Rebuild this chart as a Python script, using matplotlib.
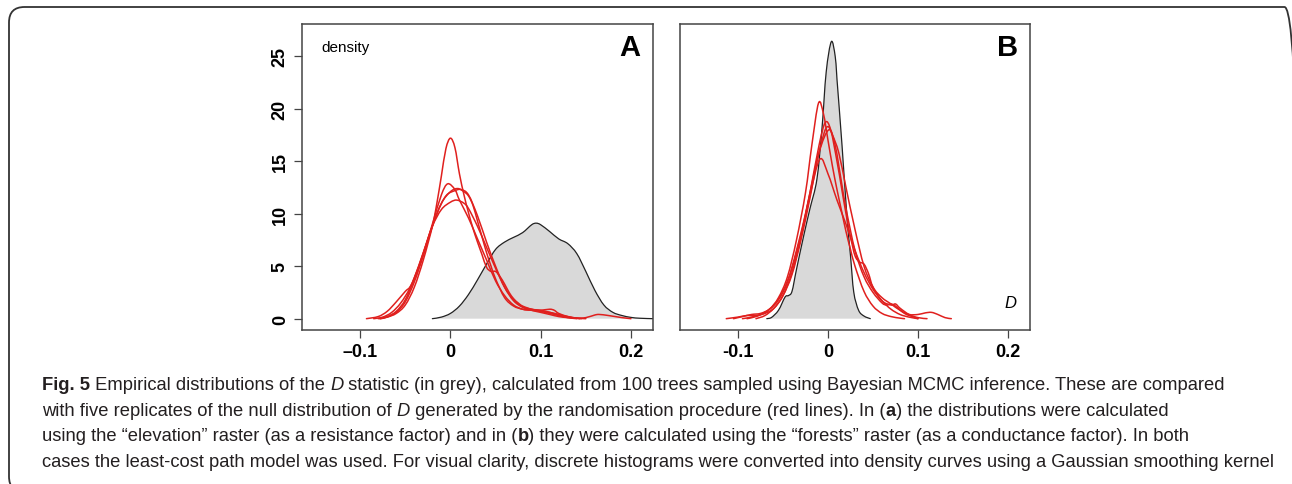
import matplotlib
matplotlib.use("Agg")
import matplotlib.pyplot as plt
import numpy as np
from matplotlib.patches import FancyBboxPatch, PathPatch
from matplotlib.path import Path

# ---------------- data ----------------
# Panel A: grey empirical distribution of D
a_grey_x = [-0.020, -0.010, 0.000, 0.010, 0.020, 0.030, 0.040, 0.050, 0.060, 0.070, 0.080,
            0.090, 0.095, 0.100, 0.110, 0.120, 0.130, 0.140, 0.150, 0.160, 0.170, 0.180,
            0.190, 0.200, 0.210, 0.224]
a_grey_y = [0.0, 0.15, 0.5, 1.2, 2.3, 3.7, 5.2, 6.6, 7.3, 7.75, 8.2,
            8.95, 9.1, 8.95, 8.3, 7.6, 7.15, 6.2, 4.5, 2.7, 1.3, 0.6,
            0.3, 0.12, 0.04, 0.0]

# Panel A: five red null replicates
a_red1_x = [-0.078, -0.07, -0.06, -0.05, -0.04, -0.03, -0.02, -0.015, -0.01, -0.005, 0.0, 0.005,
            0.01, 0.015, 0.02, 0.025, 0.03, 0.035, 0.04, 0.045, 0.05, 0.055, 0.06, 0.065, 0.07,
            0.075, 0.08, 0.09, 0.10, 0.11, 0.12, 0.13, 0.143]
a_red1_y = [0.0, 0.15, 0.5, 1.3, 3.0, 5.6, 8.8, 11.0, 13.6, 16.2, 17.2, 16.3,
            13.8, 11.8, 10.1, 8.6, 7.3, 6.1, 4.9, 4.5, 4.5, 4.0, 3.3, 2.5, 1.9,
            1.5, 1.2, 0.9, 0.8, 0.6, 0.35, 0.15, 0.0]
a_red2_x = [-0.08, -0.07, -0.06, -0.05, -0.04, -0.03, -0.02, -0.01, -0.003, 0.005, 0.01, 0.02,
            0.03, 0.04, 0.05, 0.06, 0.07, 0.08, 0.09, 0.10, 0.11, 0.12, 0.13, 0.14, 0.15]
a_red2_y = [0.0, 0.2, 0.7, 1.8, 3.8, 6.2, 9.0, 11.8, 12.85, 12.3, 11.3, 9.6,
            7.6, 5.6, 3.6, 2.2, 1.3, 0.9, 0.8, 0.7, 0.6, 0.4, 0.2, 0.05, 0.0]
a_red3_x = [-0.078, -0.07, -0.06, -0.05, -0.04, -0.03, -0.02, -0.01, 0.0, 0.008, 0.015, 0.02,
            0.025, 0.03, 0.035, 0.04, 0.045, 0.05, 0.06, 0.07, 0.08, 0.09, 0.10, 0.11, 0.115,
            0.12, 0.13, 0.14, 0.145]
a_red3_y = [0.0, 0.15, 0.6, 1.6, 3.5, 6.0, 8.8, 11.0, 12.1, 12.4, 12.1, 11.7,
            10.8, 9.3, 7.8, 6.3, 5.0, 3.8, 2.0, 1.2, 0.9, 0.8, 0.8, 0.9, 0.8,
            0.5, 0.2, 0.05, 0.0]
a_red4_x = [-0.093, -0.08, -0.07, -0.06, -0.05, -0.045, -0.04, -0.03, -0.02, -0.01, 0.0, 0.007,
            0.015, 0.02, 0.03, 0.04, 0.05, 0.06, 0.07, 0.08, 0.09, 0.10, 0.11, 0.12, 0.13,
            0.14, 0.15, 0.16, 0.165, 0.175, 0.19, 0.20]
a_red4_y = [0.0, 0.2, 0.7, 1.6, 2.6, 3.0, 3.9, 6.3, 8.8, 10.4, 11.1, 11.3,
            11.0, 10.5, 8.8, 6.8, 4.8, 3.0, 1.8, 1.1, 0.8, 0.6, 0.4, 0.2, 0.1,
            0.05, 0.1, 0.35, 0.4, 0.3, 0.1, 0.0]
a_red5_x = [-0.085, -0.075, -0.065, -0.055, -0.045, -0.035, -0.025, -0.015, -0.005, 0.005, 0.012,
            0.02, 0.03, 0.04, 0.05, 0.06, 0.07, 0.08, 0.09, 0.10, 0.11, 0.12, 0.13, 0.14]
a_red5_y = [0.0, 0.15, 0.6, 1.5, 2.9, 5.0, 7.6, 10.0, 11.7, 12.2, 12.3,
            11.8, 9.8, 7.3, 5.0, 3.0, 1.7, 1.1, 0.9, 0.7, 0.5, 0.3, 0.1, 0.0]

# Panel B: grey empirical distribution of D
b_grey_x = [-0.068, -0.063, -0.055, -0.0477, -0.044, -0.040, -0.035, -0.027, -0.020, -0.0123,
            -0.0067, -0.002, 0.0037, 0.008, 0.010, 0.0156, 0.021, 0.025, 0.0286, 0.034, 0.040, 0.047]
b_grey_y = [0.0, 0.1, 0.8, 2.06, 2.2, 2.6, 4.7, 7.9, 10.5, 13.3,
            18.1, 23.5, 26.4, 25.0, 22.8, 16.5, 9.8, 6.0, 2.54, 0.8, 0.25, 0.0]

# Panel B: five red null replicates
b_red1_x = [-0.095, -0.085, -0.075, -0.065, -0.055, -0.045, -0.035, -0.025, -0.018, -0.0105,
            -0.005, 0.0, 0.005, 0.01, 0.015, 0.02, 0.025, 0.03, 0.04, 0.05, 0.06, 0.07, 0.08, 0.085]
b_red1_y = [0.0, 0.15, 0.4, 0.9, 2.0, 4.0, 7.5, 12.0, 16.5, 20.55,
            19.5, 17.0, 14.5, 12.3, 10.3, 8.3, 6.6, 5.0, 2.6, 1.2, 0.5, 0.2, 0.05, 0.0]
b_red2_x = [-0.08, -0.07, -0.06, -0.05, -0.04, -0.03, -0.02, -0.01, -0.003, 0.003, 0.01, 0.015,
            0.02, 0.025, 0.03, 0.035, 0.04, 0.045, 0.05, 0.06, 0.07, 0.075, 0.08, 0.09, 0.10, 0.11]
b_red2_y = [0.0, 0.3, 1.0, 2.2, 4.4, 7.8, 12.0, 16.5, 18.7, 18.0, 15.0, 12.5,
            10.0, 7.8, 6.0, 5.4, 5.2, 4.3, 3.0, 1.7, 1.3, 1.4, 1.0, 0.4, 0.1, 0.0]
b_red3_x = [-0.105, -0.095, -0.085, -0.075, -0.065, -0.055, -0.045, -0.035, -0.025, -0.015,
            -0.005, 0.0, 0.005, 0.012, 0.02, 0.03, 0.04, 0.05, 0.06, 0.07, 0.08, 0.09, 0.10,
            0.108, 0.115, 0.122, 0.13, 0.137]
b_red3_y = [0.0, 0.2, 0.4, 0.5, 0.9, 1.8, 3.5, 6.5, 10.0, 14.0,
            17.5, 18.3, 17.5, 15.8, 12.5, 8.5, 5.0, 3.0, 2.0, 1.4, 0.8, 0.4, 0.4,
            0.55, 0.6, 0.4, 0.1, 0.0]
b_red4_x = [-0.113, -0.10, -0.09, -0.08, -0.07, -0.06, -0.05, -0.04, -0.03, -0.02, -0.01, 0.001,
            0.008, 0.015, 0.02, 0.03, 0.04, 0.05, 0.06, 0.065, 0.07, 0.075, 0.085, 0.095, 0.10]
b_red4_y = [0.0, 0.15, 0.3, 0.3, 0.5, 1.0, 2.2, 4.2, 7.5, 11.5, 15.8, 18.0,
            16.5, 13.0, 10.5, 6.5, 4.0, 2.5, 1.5, 1.3, 1.4, 1.2, 0.5, 0.15, 0.0]
b_red5_x = [-0.09, -0.08, -0.07, -0.06, -0.05, -0.04, -0.03, -0.02, -0.009, 0.0, 0.01, 0.02,
            0.03, 0.04, 0.05, 0.06, 0.07, 0.08, 0.09, 0.10]
b_red5_y = [0.0, 0.2, 0.6, 1.3, 2.6, 4.8, 8.0, 11.8, 15.2, 13.8, 11.3, 9.0,
            6.5, 4.4, 2.8, 1.7, 0.9, 0.4, 0.15, 0.0]

x_ticks = [-0.1, 0.0, 0.1, 0.2]
x_labels_a = ["\u20130.1", "0", "0.1", "0.2"]
x_labels_b = ["-0.1", "0", "0.1", "0.2"]
y_ticks = [0, 5, 10, 15, 20, 25]
y_labels = ["0", "5", "10", "15", "20", "25"]

caption_lines = [
    [("Fig. 5", "bold", "normal"),
     (" Empirical distributions of the ", "normal", "normal"), ("D", "normal", "italic"),
     (" statistic (in grey), calculated from 100 trees sampled using Bayesian MCMC inference. These are compared", "normal", "normal")],
    [("with five replicates of the null distribution of ", "normal", "normal"), ("D", "normal", "italic"),
     (" generated by the randomisation procedure (red lines). In (", "normal", "normal"), ("a", "bold", "normal"),
     (") the distributions were calculated", "normal", "normal")],
    [("using the \u201celevation\u201d raster (as a resistance factor) and in (", "normal", "normal"), ("b", "bold", "normal"),
     (") they were calculated using the \u201cforests\u201d raster (as a conductance factor). In both", "normal", "normal")],
    [("cases the least-cost path model was used. For visual clarity, discrete histograms were converted into density curves using a Gaussian smoothing kernel", "normal", "normal")],
]

# ---------------- figure ----------------
W, H = 1292, 485
fig = plt.figure(figsize=(W / 100, H / 100), dpi=100)
fig.patch.set_facecolor("white")

box = FancyBboxPatch((9 / W, -8 / H), (1300 - 9) / W, (477 + 8) / H,
                     boxstyle="round,pad=0,rounding_size=0.012",
                     transform=fig.transFigure, facecolor="none",
                     edgecolor="#333333", linewidth=1.3, mutation_aspect=W / H)
fig.patches.append(box)

RED = "#e0201e"
TICKFONT = ["Liberation Sans", "DejaVu Sans"]
XLIM = (-0.1644, 0.2244)
YLIM = (-1.08, 28.08)


def smooth_path(xs, ys, close_to_base=False):
    """Smooth curve through the given points (Catmull-Rom as cubic Bezier)."""
    p = np.column_stack([xs, ys]).astype(float)
    n = len(p)
    verts = [tuple(p[0])]
    codes = [Path.MOVETO]
    for i in range(n - 1):
        p0 = p[i - 1] if i > 0 else p[i]
        p1 = p[i]
        p2 = p[i + 1]
        p3 = p[i + 2] if i + 2 < n else p[i + 1]
        c1 = p1 + (p2 - p0) / 6.0
        c2 = p2 - (p3 - p1) / 6.0
        c1[1] = max(c1[1], 0.0)
        c2[1] = max(c2[1], 0.0)
        verts += [tuple(c1), tuple(c2), tuple(p2)]
        codes += [Path.CURVE4] * 3
    if close_to_base:
        verts += [(p[-1][0], 0.0), (p[0][0], 0.0), tuple(p[0])]
        codes += [Path.LINETO, Path.LINETO, Path.CLOSEPOLY]
    return Path(verts, codes)


def draw_curve(ax, xs, ys, color, lw):
    ax.add_patch(PathPatch(smooth_path(xs, ys), facecolor="none", edgecolor=color,
                           linewidth=lw, capstyle="round", joinstyle="round"))


def draw_grey(ax, xs, ys):
    ax.add_patch(PathPatch(smooth_path(xs, ys, close_to_base=True), facecolor="#d9d9d9",
                           edgecolor="none", linewidth=0))
    draw_curve(ax, xs, ys, "#222222", 0.9)


def setup(ax, xlabels, show_y):
    ax.set_xlim(*XLIM)
    ax.set_ylim(*YLIM)
    for s in ax.spines.values():
        s.set_color("#444444")
        s.set_linewidth(1.1)
    ax.set_xticks(x_ticks)
    ax.set_xticklabels(xlabels, fontsize=13, fontweight="bold", family=TICKFONT)
    ax.tick_params(axis="x", direction="out", length=6, width=0.9, color="#444444", pad=3.5)
    if show_y:
        ax.set_yticks(y_ticks)
        ax.set_yticklabels(y_labels, fontsize=13, fontweight="bold", family=TICKFONT,
                           rotation=90, va="center")
        ax.tick_params(axis="y", direction="out", length=6, width=0.9, color="#444444", pad=3.5)
    else:
        ax.set_yticks([])


axA = fig.add_axes([302 / W, (H - 331) / H, 351 / W, 306 / H])
axB = fig.add_axes([680 / W, (H - 331) / H, 350 / W, 306 / H])

draw_grey(axA, a_grey_x, a_grey_y)
for xs, ys in [(a_red1_x, a_red1_y), (a_red2_x, a_red2_y), (a_red3_x, a_red3_y),
               (a_red4_x, a_red4_y), (a_red5_x, a_red5_y)]:
    draw_curve(axA, xs, ys, RED, 1.1)
setup(axA, x_labels_a, True)
axA.text(0.055, 0.925, "density", transform=axA.transAxes, fontsize=11,
         family=TICKFONT, ha="left", va="center")
axA.text(0.965, 0.925, "A", transform=axA.transAxes, fontsize=21, fontweight="bold",
         family=TICKFONT, ha="right", va="center")

draw_grey(axB, b_grey_x, b_grey_y)
for xs, ys in [(b_red1_x, b_red1_y), (b_red2_x, b_red2_y), (b_red3_x, b_red3_y),
               (b_red4_x, b_red4_y), (b_red5_x, b_red5_y)]:
    draw_curve(axB, xs, ys, RED, 1.1)
setup(axB, x_labels_b, False)
axB.text(0.966, 0.925, "B", transform=axB.transAxes, fontsize=21, fontweight="bold",
         family=TICKFONT, ha="right", va="center")
axB.text(0.96, 0.09, "D", transform=axB.transAxes, fontsize=12, fontstyle="italic",
         family=TICKFONT, ha="right", va="center")

# ---------------- caption ----------------
CAPFONT = ["Liberation Sans Narrow", "Liberation Sans", "DejaVu Sans"]
CAPSIZE = 13.2
renderer = fig.canvas.get_renderer()
line_y = [386, 411.5, 437, 462.5]
for segs, ypix in zip(caption_lines, line_y):
    xpix = 42.0
    for txt, wt, st in segs:
        t = fig.text(xpix / W, 1 - ypix / H, txt, fontsize=CAPSIZE, fontweight=wt,
                     fontstyle=st, family=CAPFONT, ha="left", va="center", color="#231f20")
        bb = t.get_window_extent(renderer=renderer)
        xpix += bb.width

fig.savefig("out.png", dpi=100)
